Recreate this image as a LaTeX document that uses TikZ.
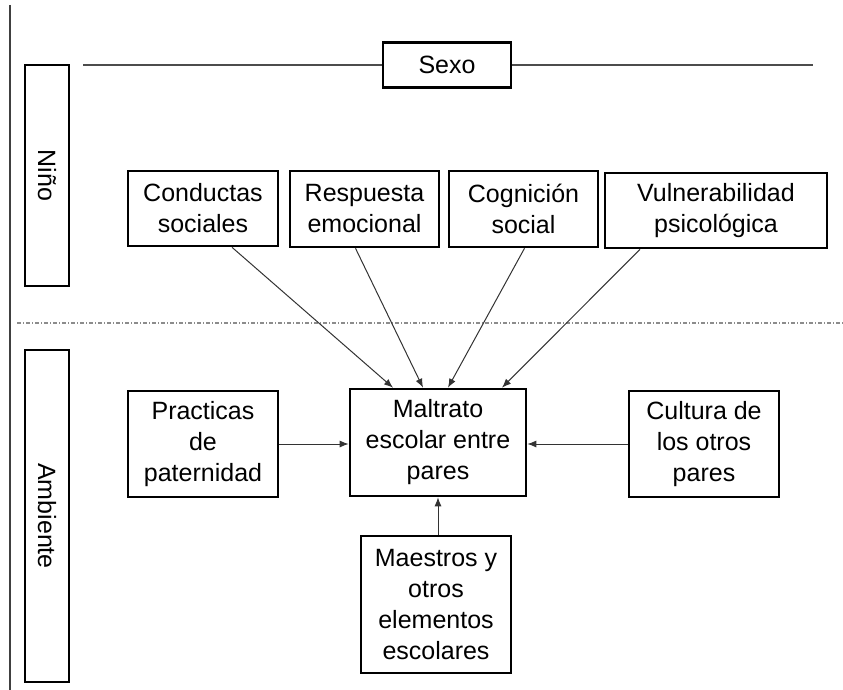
\documentclass[tikz,border=0pt]{standalone}
\usepackage{fontspec}
\setmainfont{Liberation Sans}
\usetikzlibrary{arrows.meta}

\begin{document}
\begin{tikzpicture}[x=1pt,y=-1pt,
				factor/.style={rectangle,draw,line width=2.6pt,align=center,inner sep=0pt,
					font=\fontsize{25}{31}\selectfont},
				side/.style={factor,minimum width=#1,minimum height=44pt,rotate=-90},
				influence/.style={-{Latex[length=9pt,width=7pt]},color=black!80,line width=1pt}]
	\useasboundingbox (0,0) rectangle (843,690);
	\draw[black!75,line width=2pt] (10,5) -- (10,690);
	\node[side=221pt] (Nino) at (47,175.5) {Niño};
	\node[side=332pt] (Amb) at (47,516) {Ambiente};
	\node[factor,minimum width=128pt,minimum height=45pt] (Sexo) at (447,65) {Sexo};
	\coordinate (SexoL) at (83,65);
	\coordinate (SexoR) at (813,65);
	\draw[black!70,line width=2pt] (SexoL) -- (Sexo);
	\draw[black!70,line width=2pt] (Sexo) -- (SexoR);
	\draw[black!45,line width=1.3pt,dash pattern=on 4pt off 2pt on 1pt off 2pt] (17,323) -- (843,323);
	\node[factor,minimum width=150pt,minimum height=75pt] (Cond) at (203,208.5) {Conductas\\sociales};
	\node[factor,minimum width=149pt,minimum height=76pt] (Resp) at (364.5,209) {Respuesta\\emocional};
	\node[factor,minimum width=149pt,minimum height=76pt] (Cogn) at (523.5,209) {Cognición\\social};
	\node[factor,minimum width=222pt,minimum height=75pt] (Vuln) at (716,210.5) {Vulnerabilidad\\psicológica};
	\node[factor,minimum width=176pt,minimum height=107pt] (Malt) at (438,442.5) {Maltrato\\escolar entre\\pares};
	\node[factor,minimum width=150pt,minimum height=106pt] (Prac) at (203,444) {Practicas\\de\\paternidad};
	\node[factor,minimum width=150pt,minimum height=106pt] (Cult) at (704,444) {Cultura de\\los otros\\pares};
	\node[factor,minimum width=150pt,minimum height=137pt] (Maes) at (436,604.5) {Maestros y\\otros\\elementos\\escolares};
	\draw[influence] ([xshift=29pt]Cond.south) -- ([xshift=-45pt]Malt.north);
	\draw[influence] ([xshift=-9pt]Resp.south) -- ([xshift=-15pt]Malt.north);
	\draw[influence] ([xshift=1pt]Cogn.south) -- ([xshift=10pt]Malt.north);
	\draw[influence] ([xshift=-76pt]Vuln.south) -- ([xshift=64pt]Malt.north);
	\draw[influence] (Prac.east) -- (Prac.east -| Malt.west);
	\draw[influence] (Cult.west) -- (Cult.west -| Malt.east);
	\draw[influence] (Maes.north -| Malt.south) -- (Malt.south);
\end{tikzpicture}
\end{document}
